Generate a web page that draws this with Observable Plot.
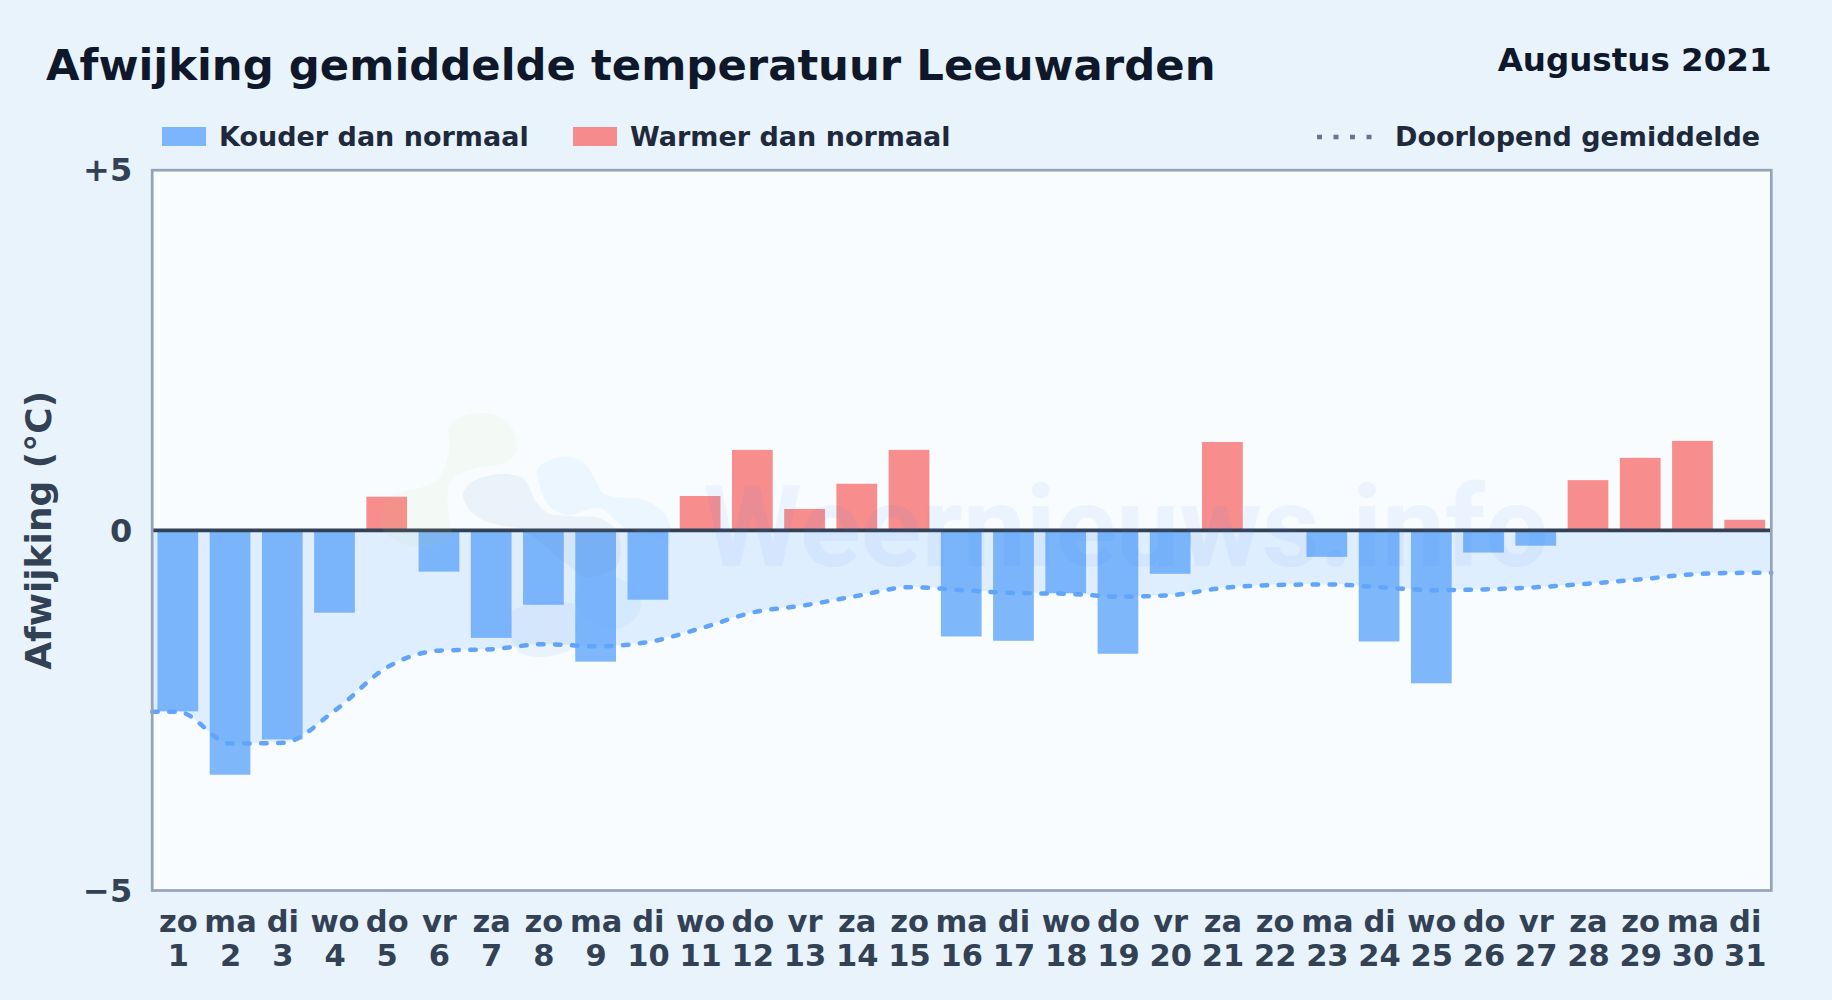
<!DOCTYPE html>
<html><head><meta charset="utf-8">
<script src="https://cdn.jsdelivr.net/npm/d3@7"></script>
<script src="https://cdn.jsdelivr.net/npm/@observablehq/plot@0.6"></script>
<style>
html,body{margin:0;padding:0;background:#e8f3fc;width:1832px;height:1000px;overflow:hidden;font-family:"DejaVu Sans",sans-serif;font-weight:700}
#head{position:relative;height:150px;width:1832px}
#head>*{position:absolute;white-space:nowrap}
#title{left:46px;top:36px;font-size:43.35px;line-height:58px;color:#0f172a}
#period{right:60.5px;top:39.5px;font-size:32.5px;line-height:40px;color:#0f172a}
.lg{top:120px;font-size:27px;line-height:34px;color:#1e293b}
.sw{top:127px;height:19px;width:44px}
svg{display:block}
</style></head><body>
<div id="head">
<div id="title">Afwijking gemiddelde temperatuur Leeuwarden</div>
<div id="period">Augustus 2021</div>
<div class="sw" style="left:162px;background:#60a5fa;opacity:.8"></div>
<div class="lg" style="left:219px">Kouder dan normaal</div>
<div class="sw" style="left:573px;background:#f87171;opacity:.8"></div>
<div class="lg" style="left:630px">Warmer dan normaal</div>
<svg style="left:1317px;top:132px" width="58" height="10"><line x1="0" x2="58" y1="5" y2="5" stroke="#64748b" stroke-width="4.5" stroke-dasharray="5 11.5"/></svg>
<div class="lg" style="left:1395px">Doorlopend gemiddelde</div>
</div>
<div id="chart"></div>
<script>
const days = d3.range(1, 32);
const weekdays = ["zo","ma","di","wo","do","vr","za","zo","ma","di","wo","do","vr","za","zo","ma","di","wo","do","vr","za","zo","ma","di","wo","do","vr","za","zo","ma","di"];
const deviation = [-2.52,-3.40,-2.91,-1.15,0.46,-0.58,-1.50,-1.04,-1.83,-0.97,0.47,1.11,0.29,0.64,1.11,-1.48,-1.54,-0.88,-1.72,-0.61,1.22,0,-0.375,-1.55,-2.13,-0.315,-0.22,0.69,1.00,1.235,0.14];
const runningMean = [-2.52,-2.96,-2.95,-2.50,-1.90,-1.67,-1.65,-1.58,-1.61,-1.55,-1.36,-1.14,-1.04,-0.91,-0.79,-0.83,-0.87,-0.88,-0.92,-0.90,-0.80,-0.76,-0.75,-0.79,-0.83,-0.82,-0.79,-0.74,-0.68,-0.61,-0.59];
const halfBar = 0.39;
const bars = days.map((d,i)=>({d, v:deviation[i]})).filter(b=>b.v!==0);
const lineData = [{d:0.5,v:runningMean[0]}, ...days.map((d,i)=>({d,v:runningMean[i]})), {d:31.5,v:runningMean[30]}];
const curve = "monotone-x";
const fmtY = v => v>0 ? "+5" : v<0 ? "\u22125" : "0";

function watermark(index, scales, values, dim, context){
  const g = d3.create("svg:g").attr("transform","translate(0,-150)");
  const add=(d,f,o)=>g.append("path").attr("d",d).attr("fill",f).attr("fill-opacity",o);
  add("M448 430C450 418 468 413 483 413C503 413 517 428 517 445C518 456 510 462 498 465C478 468 458 470 450 482C445 492 448 520 453 535C445 545 430 548 420 547C405 547 390 540 383 530C380 515 382 505 387 497C405 488 425 490 438 480C448 465 452 445 448 430Z","#b9dd84",.08);
  add("M463 497C462 482 485 474 503 474C517 474 525 478 527 483C532 492 533 498 537 503C543 512 550 515 557 515C575 517 585 516 597 517C610 522 620 530 620 540C622 552 620 560 617 567C605 575 590 578 583 577C560 560 540 540 520 528C490 525 470 520 463 497Z","#5f8ccc",.09);
  add("M537 473C538 462 553 457 567 457C578 457 586 463 590 470C596 480 598 488 603 493C612 498 625 498 637 498C652 502 665 510 668 520C672 530 670 538 670 545C660 540 640 532 623 527C612 518 606 508 597 508C585 508 575 516 567 515C553 512 542 505 537 473Z","#60b4fa",.08);
  add("M512 612C525 600 560 600 574 604C578 625 578 640 570 650C555 658 530 660 518 652C510 640 508 625 512 612Z","#4f90d8",.08);
  add("M574 604C575 590 582 578 590 575C610 572 630 580 640 595C645 610 635 625 615 630C600 628 585 622 574 604Z","#60b4fa",.08);
  return g.node();
}

const plot = Plot.plot({
  width:1832, height:850,
  marginTop:19.7, marginBottom:110, marginLeft:151.7, marginRight:61.2,
  style:{fontFamily:'"DejaVu Sans",sans-serif',fontWeight:700,background:"transparent",overflow:"visible"},
  x:{domain:[0.5,31.5]},
  y:{domain:[-5,5]},
  marks:[
    Plot.frame({fill:"#f8fcff",stroke:"none"}),
    Plot.areaY(lineData,{x:"d",y1:()=>0,y2:"v",fill:"#60a5fa",fillOpacity:.16,curve}),
    Plot.rectY(bars,{x1:b=>b.d-halfBar,x2:b=>b.d+halfBar,y1:()=>0,y2:"v",fill:b=>b.v<0?"#60a5fa":"#f87171",fillOpacity:.8}),
    Plot.line(lineData,{x:"d",y:"v",stroke:"#60a5fa",strokeWidth:4.5,strokeDasharray:"5.5 11.5",strokeLinecap:"round",curve}),
    Plot.ruleY([0],{stroke:"#334155",strokeWidth:3.7}),
    watermark,
    Plot.text(["Weernieuws.info"],{frameAnchor:"top-left",dx:551,dy:316,fontSize:112.5,fontFamily:"Roboto",fontWeight:700,fill:"#3b82f6",fillOpacity:.07,textAnchor:"start",lineAnchor:"top"}),
    Plot.frame({stroke:"#94a3b8",strokeWidth:2.7}),
    Plot.axisX(days,{anchor:"bottom",tickSize:0,tickPadding:18,fontSize:30.5,lineHeight:1.1,fill:"#334155",tickFormat:d=>weekdays[d-1]+"\n"+d,label:null}),
    Plot.axisY([-5,0,5],{anchor:"left",tickSize:0,tickPadding:20,fontSize:32,dy:1,fill:"#334155",tickFormat:fmtY,label:null}),
    Plot.text(["Afwijking (°C)"],{frameAnchor:"left",textAnchor:"middle",rotate:-90,dx:-113,fontSize:36,fill:"#334155"})
  ]
});
document.getElementById("chart").appendChild(plot);
</script>
</body></html>
